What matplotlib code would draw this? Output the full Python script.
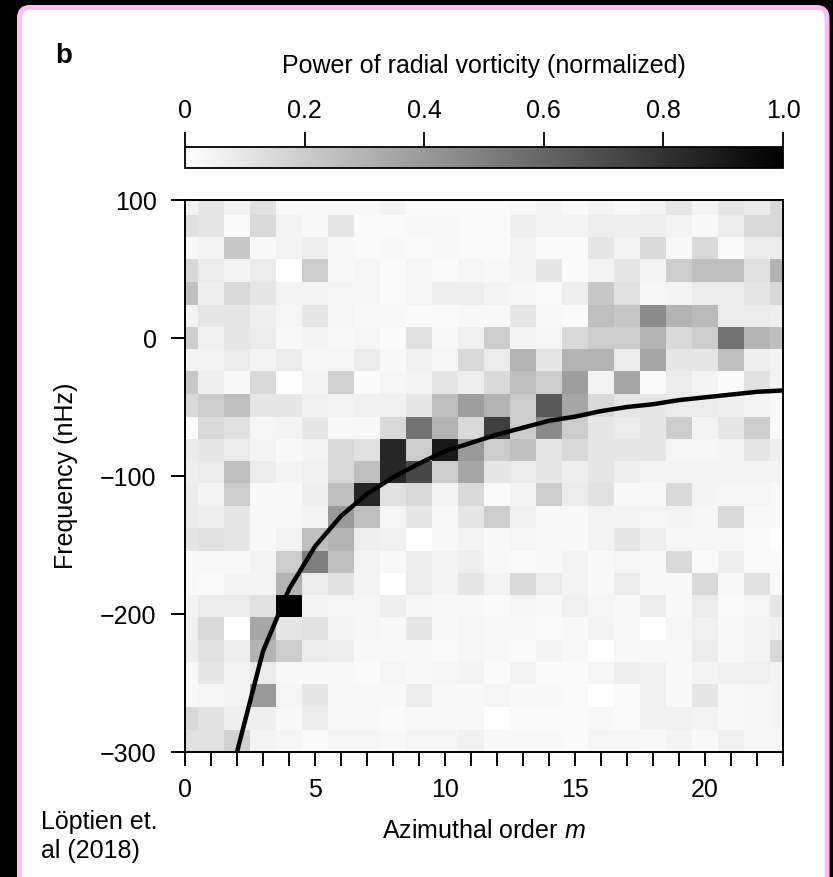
import numpy as np
import matplotlib.pyplot as plt
from matplotlib.patches import FancyBboxPatch

plt.rcParams['font.family'] = ['Liberation Sans', 'DejaVu Sans']
plt.rcParams['mathtext.fontset'] = 'custom'
plt.rcParams['mathtext.it'] = 'Liberation Sans:italic'
plt.rcParams['mathtext.rm'] = 'Liberation Sans'

# azimuthal order (columns) and frequency bin centres in nHz (rows, top to bottom)
m_values = list(range(24))
freq_top_down = [97, 81, 65, 49, 32, 16, 0, -16, -32, -49, -65, -81, -97,
                 -113, -130, -146, -162, -178, -194, -211, -227, -243, -259, -276, -292]

# normalized power, one row per frequency bin (top row first), m = 0..23
power_rows = [
    [0.05, 0.10, 0.05, 0.12, 0.03, 0.03, 0.03, 0.03, 0.05, 0.02, 0.02, 0.02, 0.02, 0.03, 0.05, 0.03, 0.05, 0.03, 0.05, 0.10, 0.05, 0.10, 0.08, 0.15],
    [0.12, 0.10, 0.02, 0.15, 0.05, 0.03, 0.10, 0.02, 0.02, 0.03, 0.03, 0.02, 0.02, 0.07, 0.05, 0.05, 0.07, 0.07, 0.07, 0.05, 0.03, 0.08, 0.15, 0.15],
    [0.03, 0.05, 0.22, 0.03, 0.05, 0.07, 0.03, 0.02, 0.03, 0.02, 0.03, 0.02, 0.02, 0.05, 0.02, 0.02, 0.10, 0.05, 0.15, 0.03, 0.15, 0.02, 0.08, 0.08],
    [0.15, 0.08, 0.05, 0.08, 0.00, 0.20, 0.03, 0.04, 0.02, 0.04, 0.02, 0.04, 0.03, 0.05, 0.10, 0.02, 0.05, 0.10, 0.05, 0.20, 0.25, 0.25, 0.12, 0.30],
    [0.25, 0.07, 0.15, 0.10, 0.05, 0.05, 0.04, 0.04, 0.02, 0.04, 0.07, 0.07, 0.05, 0.04, 0.02, 0.07, 0.22, 0.12, 0.04, 0.05, 0.08, 0.08, 0.10, 0.15],
    [0.05, 0.10, 0.10, 0.07, 0.04, 0.10, 0.04, 0.03, 0.03, 0.02, 0.02, 0.03, 0.03, 0.10, 0.03, 0.02, 0.25, 0.22, 0.45, 0.30, 0.27, 0.08, 0.08, 0.07],
    [0.20, 0.06, 0.10, 0.08, 0.03, 0.05, 0.03, 0.04, 0.02, 0.12, 0.03, 0.06, 0.20, 0.05, 0.04, 0.15, 0.20, 0.20, 0.30, 0.15, 0.20, 0.55, 0.30, 0.25],
    [0.05, 0.05, 0.08, 0.05, 0.08, 0.04, 0.04, 0.08, 0.03, 0.06, 0.04, 0.15, 0.08, 0.30, 0.10, 0.30, 0.30, 0.08, 0.35, 0.10, 0.10, 0.25, 0.07, 0.05],
    [0.22, 0.07, 0.03, 0.15, 0.01, 0.05, 0.18, 0.02, 0.04, 0.05, 0.10, 0.07, 0.15, 0.25, 0.20, 0.38, 0.05, 0.35, 0.02, 0.08, 0.05, 0.02, 0.12, 0.05],
    [0.15, 0.20, 0.25, 0.10, 0.10, 0.06, 0.05, 0.06, 0.06, 0.10, 0.25, 0.38, 0.30, 0.20, 0.65, 0.35, 0.15, 0.10, 0.10, 0.08, 0.08, 0.07, 0.05, 0.03],
    [0.01, 0.15, 0.12, 0.04, 0.05, 0.10, 0.03, 0.03, 0.15, 0.55, 0.30, 0.15, 0.75, 0.20, 0.45, 0.20, 0.10, 0.08, 0.10, 0.20, 0.05, 0.10, 0.20, 0.03],
    [0.08, 0.10, 0.08, 0.05, 0.03, 0.05, 0.15, 0.12, 0.85, 0.20, 0.90, 0.40, 0.20, 0.25, 0.10, 0.15, 0.10, 0.10, 0.10, 0.04, 0.04, 0.05, 0.10, 0.07],
    [0.07, 0.08, 0.25, 0.08, 0.05, 0.06, 0.15, 0.25, 0.85, 0.72, 0.20, 0.35, 0.10, 0.08, 0.10, 0.07, 0.10, 0.07, 0.05, 0.05, 0.05, 0.05, 0.05, 0.05],
    [0.08, 0.05, 0.20, 0.03, 0.03, 0.07, 0.25, 0.85, 0.12, 0.15, 0.05, 0.15, 0.02, 0.05, 0.20, 0.08, 0.12, 0.03, 0.03, 0.15, 0.05, 0.04, 0.04, 0.03],
    [0.08, 0.07, 0.10, 0.03, 0.03, 0.05, 0.40, 0.25, 0.04, 0.10, 0.03, 0.10, 0.20, 0.06, 0.03, 0.03, 0.05, 0.05, 0.04, 0.05, 0.04, 0.15, 0.03, 0.03],
    [0.10, 0.12, 0.10, 0.03, 0.05, 0.25, 0.30, 0.07, 0.06, 0.00, 0.03, 0.05, 0.03, 0.04, 0.03, 0.03, 0.05, 0.10, 0.07, 0.04, 0.04, 0.04, 0.02, 0.00],
    [0.03, 0.03, 0.03, 0.05, 0.20, 0.50, 0.25, 0.05, 0.03, 0.08, 0.05, 0.07, 0.03, 0.02, 0.03, 0.05, 0.03, 0.04, 0.03, 0.15, 0.02, 0.07, 0.02, 0.02],
    [0.03, 0.02, 0.05, 0.05, 0.30, 0.08, 0.12, 0.05, 0.00, 0.08, 0.05, 0.10, 0.05, 0.15, 0.08, 0.05, 0.03, 0.08, 0.03, 0.03, 0.15, 0.03, 0.12, 0.03],
    [0.05, 0.08, 0.08, 0.12, 1.00, 0.05, 0.04, 0.04, 0.07, 0.04, 0.03, 0.03, 0.02, 0.04, 0.03, 0.06, 0.04, 0.03, 0.08, 0.03, 0.08, 0.02, 0.04, 0.10],
    [0.06, 0.15, 0.00, 0.35, 0.10, 0.12, 0.05, 0.04, 0.03, 0.10, 0.03, 0.04, 0.03, 0.03, 0.02, 0.03, 0.05, 0.03, 0.00, 0.04, 0.06, 0.03, 0.05, 0.06],
    [0.07, 0.12, 0.07, 0.30, 0.20, 0.08, 0.07, 0.03, 0.03, 0.03, 0.02, 0.04, 0.03, 0.02, 0.05, 0.03, 0.00, 0.03, 0.03, 0.03, 0.08, 0.03, 0.05, 0.15],
    [0.03, 0.10, 0.05, 0.08, 0.03, 0.03, 0.03, 0.02, 0.04, 0.03, 0.04, 0.05, 0.02, 0.05, 0.02, 0.02, 0.04, 0.07, 0.06, 0.03, 0.05, 0.06, 0.06, 0.05],
    [0.03, 0.04, 0.05, 0.40, 0.04, 0.10, 0.03, 0.03, 0.03, 0.08, 0.03, 0.03, 0.04, 0.03, 0.03, 0.02, 0.00, 0.02, 0.06, 0.03, 0.10, 0.03, 0.04, 0.05],
    [0.15, 0.12, 0.07, 0.07, 0.03, 0.08, 0.03, 0.03, 0.02, 0.03, 0.03, 0.03, 0.00, 0.02, 0.02, 0.02, 0.03, 0.02, 0.06, 0.06, 0.05, 0.03, 0.04, 0.05],
    [0.12, 0.12, 0.18, 0.05, 0.04, 0.02, 0.04, 0.04, 0.03, 0.04, 0.04, 0.06, 0.03, 0.03, 0.03, 0.02, 0.04, 0.04, 0.03, 0.05, 0.03, 0.06, 0.04, 0.04],
]

# dispersion curve
curve_m = [2, 3, 4, 5, 6, 7, 8, 9, 10, 11, 12, 13, 14, 15, 16, 17, 18, 19, 20, 21, 22, 23]
curve_nu = [-300, -227, -182, -151, -129, -113, -101, -91, -82, -76, -70, -65,
            -60, -57, -53, -50, -48, -45, -43, -41, -39, -38]

cbar_ticks = [0, 0.2, 0.4, 0.6, 0.8, 1.0]
cbar_labels = ['0', '0.2', '0.4', '0.6', '0.8', '1.0']

W, H = 833, 877
fig = plt.figure(figsize=(W / 100, H / 100), dpi=100, facecolor='black')

# white panel with pink frame
panel = FancyBboxPatch((19.5 / W, -0.05), 807.5 / W, 1.05 - 7.5 / H,
                       boxstyle='round,pad=0,rounding_size=0.012',
                       transform=fig.transFigure, facecolor='white',
                       edgecolor='#ffbef6', linewidth=3.6, zorder=-10)
fig.patches.append(panel)

ax = fig.add_axes([185 / W, 1 - 752 / H, 598 / W, 552 / H])
cax = fig.add_axes([185 / W, 1 - 168 / H, 598 / W, 21 / H])

freqs = freq_top_down[::-1]
power = np.array(power_rows)[::-1]
mesh = ax.pcolormesh(m_values, freqs, power, cmap='gray_r', vmin=0, vmax=1,
                     shading='nearest')
ax.plot(curve_m, curve_nu, color='black', lw=3.2)

ax.set_xlim(0, 23)
ax.set_ylim(-300, 100)
ax.set_xticks(range(24))
ax.set_xticklabels([str(i) if i % 5 == 0 else '' for i in range(24)])
ax.set_yticks([-300, -200, -100, 0, 100])
ax.set_yticklabels(['\u2212300', '\u2212200', '\u2212100', '0', '100'])
ax.tick_params(direction='out', length=10, width=1.4, labelsize=18, colors='black')
ax.tick_params(axis='y', pad=10.5)
ax.tick_params(axis='x', pad=9)
for s in ax.spines.values():
    s.set_linewidth(1.4)
ax.set_xlabel('Azimuthal order $m$', fontsize=18, labelpad=12)
ax.set_ylabel('Frequency (nHz)', fontsize=18, labelpad=16)

cb = fig.colorbar(mesh, cax=cax, orientation='horizontal', ticks=cbar_ticks)
cb.ax.xaxis.set_ticks_position('top')
cb.ax.set_xticklabels(cbar_labels)
cb.ax.tick_params(length=11, width=1.3, labelsize=18, pad=6)
cb.outline.set_linewidth(1.3)

fig.text(484 / W, 1 - 73 / H, 'Power of radial vorticity (normalized)',
         fontsize=18, ha='center', va='baseline')
fig.text(55 / W, 1 - 63 / H, 'b', fontsize=20, fontweight='heavy',
         ha='left', va='baseline')
fig.text(41 / W, 1 - 829 / H, 'Löptien et.', fontsize=18,
         ha='left', va='baseline')
fig.text(41 / W, 1 - 858 / H, 'al (2018)', fontsize=18,
         ha='left', va='baseline')

fig.savefig('out.png', dpi=100, facecolor='black')
